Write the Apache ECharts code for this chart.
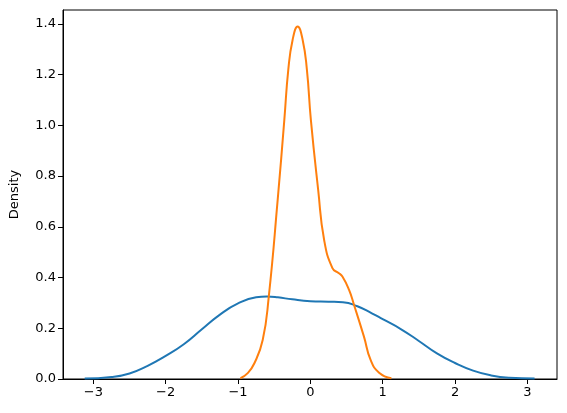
<!DOCTYPE html>
<html>
<head>
<meta charset="utf-8">
<script src="https://cdn.jsdelivr.net/npm/echarts@6/dist/echarts.min.js"></script>
<style>html,body{margin:0;padding:0;background:#fff}#c{width:567px;height:413px}</style>
</head>
<body>
<div id="c"></div>
<script>
const blueX = [-3.12, -2.75, -2.5, -2.25, -2.0, -1.75, -1.5, -1.25, -1.0, -0.75, -0.6, -0.45, -0.25, 0.0, 0.25, 0.45, 0.65, 0.85, 1.0, 1.25, 1.5, 1.75, 2.0, 2.25, 2.5, 2.75, 3.1];
const blueY = [0.002, 0.008, 0.022, 0.052, 0.091, 0.137, 0.196, 0.254, 0.298, 0.322, 0.325, 0.322, 0.314, 0.307, 0.305, 0.303, 0.287, 0.259, 0.236, 0.197, 0.150, 0.101, 0.063, 0.033, 0.014, 0.005, 0.002];
const orangeX = [-0.967, -0.87, -0.774, -0.659, -0.576, -0.452, -0.36, -0.305, -0.245, -0.176, -0.107, -0.048, 0.007, 0.108, 0.19, 0.305, 0.39, 0.443, 0.535, 0.604, 0.741, 0.833, 0.95, 1.12];
const orangeY = [0.003, 0.022, 0.062, 0.154, 0.322, 0.706, 1.022, 1.22, 1.338, 1.390, 1.338, 1.22, 1.022, 0.746, 0.549, 0.437, 0.418, 0.404, 0.351, 0.292, 0.167, 0.075, 0.025, 0.003];
const xTicks = [-3, -2, -1, 0, 1, 2, 3];
const yTicks = [0, 0.2, 0.4, 0.6, 0.8, 1.0, 1.2, 1.4];

const zip = (a, b) => a.map((v, i) => [v, b[i]]);
const fmtX = v => (v < 0 ? '\u2212' + Math.abs(v) : String(v));
const font = 'DejaVu Sans';
const chart = echarts.init(document.getElementById('c'), null, {renderer: 'canvas'});
chart.setOption({
  animation: false,
  grid: {left: 61, right: 10, top: 10, bottom: 34, show: true, borderColor: '#000', borderWidth: 1, backgroundColor: '#fff'},
  xAxis: {
    type: 'value', min: -3.42, max: 3.41,
    axisLine: {show: true, onZero: false, lineStyle: {color: '#000', width: 1}},
    splitLine: {show: false},
    axisTick: {show: true, length: 5, inside: false, lineStyle: {color: '#000'}, customValues: xTicks},
    axisLabel: {show: true, customValues: xTicks, formatter: fmtX, color: '#000', fontFamily: font, fontSize: 13, margin: 7}
  },
  yAxis: {
    type: 'value', min: 0, max: 1.455,
    name: 'Density', nameLocation: 'middle', nameGap: 42, nameRotate: 90,
    nameTextStyle: {color: '#000', fontFamily: font, fontSize: 13},
    axisLine: {show: true, onZero: false, lineStyle: {color: '#000', width: 1}},
    splitLine: {show: false},
    axisTick: {show: true, length: 5, inside: false, lineStyle: {color: '#000'}, customValues: yTicks},
    axisLabel: {show: true, customValues: yTicks, formatter: v => v.toFixed(1), color: '#000', fontFamily: font, fontSize: 13, margin: 7}
  },
  series: [
    {type: 'line', data: zip(blueX, blueY), smooth: 0.5, showSymbol: false, lineStyle: {color: '#1f77b4', width: 2}, itemStyle: {color: '#1f77b4'}},
    {type: 'line', data: zip(orangeX, orangeY), smooth: 0.5, showSymbol: false, lineStyle: {color: '#ff7f0e', width: 2}, itemStyle: {color: '#ff7f0e'}}
  ]
});
</script>
</body>
</html>
